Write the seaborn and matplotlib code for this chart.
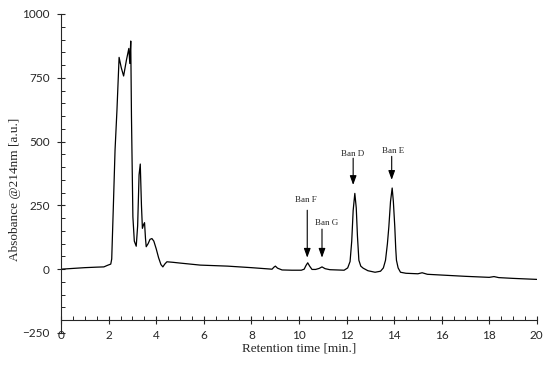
import matplotlib
matplotlib.use("Agg")
import matplotlib.pyplot as plt
from matplotlib.ticker import MultipleLocator
import seaborn as sns
import pandas as pd

# retention time [min] and absorbance
time = [0, 0.5, 1.0, 1.5, 1.8, 1.95, 2.09, 2.13, 2.2, 2.27, 2.35, 2.44, 2.53, 2.63,
        2.75, 2.85, 2.89, 2.93, 2.96, 2.98, 3.02, 3.08, 3.16, 3.22, 3.28, 3.33, 3.38,
        3.42, 3.47, 3.51, 3.55, 3.58, 3.66, 3.74, 3.82, 3.9, 4.0, 4.1, 4.2, 4.28, 4.36,
        4.45, 4.7, 5.0, 5.85, 7.0, 8.0, 8.87, 8.95, 9.01, 9.1, 9.29, 9.7, 10.1, 10.22,
        10.3, 10.37, 10.45, 10.55, 10.7, 10.85, 10.97, 11.1, 11.3, 11.6, 11.9, 12.05,
        12.15, 12.22, 12.28, 12.35, 12.41, 12.46, 12.52, 12.6, 12.7, 12.9, 13.2, 13.43,
        13.55, 13.64, 13.72, 13.78, 13.85, 13.92, 13.97, 14.03, 14.07, 14.1, 14.17,
        14.27, 14.5, 15.0, 15.18, 15.4, 16.0, 17.0, 18.0, 18.2, 18.4, 19.0, 20.0]
absorbance = [0, 3, 6, 8, 9, 15, 20, 40, 250, 467, 623, 830, 790, 757,
              820, 865, 806, 894, 600, 467, 205, 110, 90, 170, 370, 412, 250,
              160, 175, 182, 120, 88, 100, 117, 120, 110, 80, 45, 18, 9, 20,
              29, 27, 24, 16, 12, 6, 0, 8, 12, 4, -3, -4, -4, 0,
              15, 25, 12, -1, -1, 3, 9, 2, -2, -3, -4, 5,
              30, 110, 230, 297, 240, 130, 35, 12, 4, -6, -12, -8,
              5, 35, 100, 166, 265, 318, 265, 166, 80, 35, 5,
              -12, -16, -18, -14, -20, -23, -28, -32, -29, -33, -36, -40]

# peak labels: text position and arrow (x, y_start, y_end)
peak_names = ["Ban F", "Ban G", "Ban D", "Ban E"]
label_x = [10.3, 11.16, 12.24, 13.94]
label_y = [270, 180, 451, 465]
arrow_x = [10.35, 10.97, 12.28, 13.9]
arrow_top = [231, 157, 435, 442]
arrow_tip = [45, 45, 330, 350]

df = pd.DataFrame({"time": time, "absorbance": absorbance})

sns.set_style("ticks")
plt.rcParams["font.family"] = ["Liberation Serif", "DejaVu Serif"]

fig = plt.figure(figsize=(5.5, 3.65), dpi=100)
ax = fig.add_axes([0.111, 0.0877, 0.865, 0.874])

sns.lineplot(data=df, x="time", y="absorbance", color="black", linewidth=0.9,
             estimator=None, ax=ax)

for name, lx, ly, axx, at, tip in zip(peak_names, label_x, label_y, arrow_x, arrow_top, arrow_tip):
    ax.text(lx, ly, name, ha="center", va="center", fontsize=6.5)
    ax.annotate("", xy=(axx, tip), xytext=(axx, at),
                arrowprops=dict(arrowstyle="-|>,head_length=0.55,head_width=0.2",
                                color="black", lw=0.8, shrinkA=0, shrinkB=0))

ax.set_xlim(0, 20)
ax.set_ylim(-250, 1000)
ax.spines["top"].set_visible(False)
ax.spines["right"].set_visible(False)
ax.spines["bottom"].set_position(("data", -200))
ax.spines["left"].set_linewidth(0.8)
ax.spines["bottom"].set_linewidth(0.8)

ax.xaxis.set_major_locator(MultipleLocator(2))
ax.xaxis.set_minor_locator(MultipleLocator(0.5))
ax.yaxis.set_major_locator(MultipleLocator(250))
ax.yaxis.set_minor_locator(MultipleLocator(50))
ax.tick_params(which="major", direction="inout", length=6, width=0.8, labelsize=8.5)
ax.tick_params(which="minor", direction="in", length=3, width=0.7)
ax.tick_params(axis="x", which="major", pad=4)
ax.tick_params(axis="y", which="major", pad=5)
for lab in ax.get_xticklabels() + ax.get_yticklabels():
    lab.set_family(["Lato", "DejaVu Sans"])

ax.set_xlabel("Retention time [min.]", fontsize=9.5, labelpad=1)
ax.set_ylabel("Absobance @214nm [a.u.]", fontsize=9.5)
ax.yaxis.set_label_coords(-0.085, 0.45)

fig.savefig("out.png", dpi=100, facecolor="white")
